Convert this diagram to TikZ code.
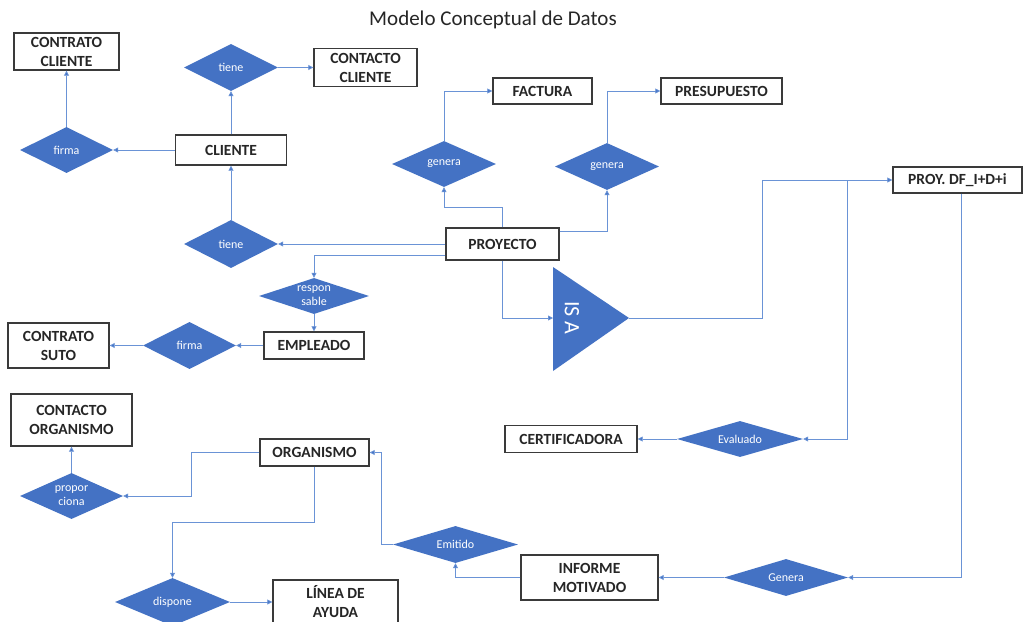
\documentclass[tikz,border=0pt]{standalone}
\usepackage{fontspec}
\setmainfont{Carlito}
\usetikzlibrary{shapes.geometric,arrows.meta}
\definecolor{dblue}{HTML}{4472C4}
\definecolor{lblue}{HTML}{6A93D6}
\definecolor{boxc}{HTML}{3A3A3A}
\tikzset{
  ent/.style={draw=boxc, line width=1.4pt, fill=white, align=center, inner sep=0pt,
    font=\bfseries\fontsize{15.5}{19}\selectfont, text=black!85},
  rel/.style={diamond, fill=dblue, draw=none, inner sep=0pt, align=center,
    text=white, font=\fontsize{12}{14}\selectfont},
  conn/.style={draw=lblue, line width=0.8pt, -{Triangle[length=5pt,width=5pt,fill=dblue]}},
}
\begin{document}
\begin{tikzpicture}[x=1pt,y=-1pt]
\useasboundingbox (0,0) rectangle (1025,621);
\fill[white] (0,0) rectangle (1025,621);
\node[font=\fontsize{21}{23}\selectfont, text=black!85] (title) at (493,20) {Modelo Conceptual de Datos};
% entities
\node[ent, minimum width=105, minimum height=37] (contratocliente) at (66.5,51.5) {CONTRATO\\CLIENTE};
\node[ent, minimum width=103, minimum height=38] (contactocliente) at (365.5,67.5) {CONTACTO\\CLIENTE};
\node[ent, minimum width=111, minimum height=30] (cliente) at (231,150) {CLIENTE};
\node[ent, minimum width=99, minimum height=26] (factura) at (542.5,91) {FACTURA};
\node[ent, minimum width=121, minimum height=26] (presupuesto) at (721.5,91) {PRESUPUESTO};
\node[ent, minimum width=113, minimum height=32] (proyecto) at (502.5,244) {PROYECTO};
\node[ent, minimum width=129, minimum height=26] (proy) at (957.5,180) {PROY. DF\_I+D+i};
\node[ent, minimum width=101, minimum height=45] (contratosuto) at (58.5,345.5) {CONTRATO\\SUTO};
\node[ent, minimum width=100, minimum height=27] (empleado) at (314,345.5) {EMPLEADO};
\node[ent, minimum width=121, minimum height=52] (contactoorg) at (71.5,420) {CONTACTO\\ORGANISMO};
\node[ent, minimum width=109, minimum height=27] (organismo) at (314.5,452.5) {ORGANISMO};
\node[ent, minimum width=132, minimum height=27] (certificadora) at (571,439) {CERTIFICADORA};
\node[ent, minimum width=137, minimum height=45] (informe) at (589.5,577.5) {INFORME\\MOTIVADO};
\node[ent, minimum width=125, minimum height=44] (linea) at (335.5,602) {LÍNEA DE\\AYUDA};
% relationships
\node[rel, aspect=2, minimum width=94, minimum height=47] (tiene1) at (231,67.5) {tiene};
\node[rel, aspect=2, minimum width=93, minimum height=46] (firma1) at (66.5,150) {firma};
\node[rel, aspect=2.2, minimum width=104, minimum height=46] (genera1) at (444,164) {genera};
\node[rel, aspect=2.2, minimum width=104, minimum height=47] (genera2) at (607,166.5) {genera};
\node[rel, aspect=2, minimum width=94, minimum height=48] (tiene2) at (231,244) {tiene};
\node[rel, aspect=3, minimum width=110, minimum height=36] (respons) at (314,296) {respon\\sable};
\node[rel, aspect=2, minimum width=93, minimum height=47] (firma2) at (189.5,345.5) {firma};
\node[rel, aspect=3.5, minimum width=126, minimum height=36] (evaluado) at (740,439) {Evaluado};
\node[rel, aspect=2.2, minimum width=103, minimum height=46] (propor) at (71.5,496) {propor\\ciona};
\node[rel, aspect=3.4, minimum width=125, minimum height=37] (emitido) at (455.5,544.5) {Emitido};
\node[rel, aspect=3.4, minimum width=124, minimum height=37] (genera3) at (786,577.5) {Genera};
\node[rel, aspect=2.4, minimum width=115, minimum height=48] (dispone) at (172.5,602) {dispone};
% IS A triangle
\coordinate (isaL) at (553,318);
\coordinate (isaR) at (629,318);
\fill[dblue] (553,267) -- (isaR) -- (553,371) -- cycle;
\node[text=white, rotate=-90, font=\fontsize{22}{24}\selectfont] (isa) at (572,318) {IS A};
% junctions
\coordinate (j1) at (762,318);
\coordinate (j2) at (847,180);
% connectors
\draw[conn] (cliente.north) -- (tiene1.south);
\draw[conn] (tiene1.east) -- (contactocliente.west);
\draw[conn] (cliente.west) -- (firma1.east);
\draw[conn] (firma1.north) -- (contratocliente.south);
\draw[conn] (tiene2.north) -- (cliente.south);
\draw[conn] (proyecto.west) -- (tiene2.east);
\draw[conn] ([yshift=-11pt]proyecto.west) -| (respons.north);
\draw[conn] (respons.south) -- (empleado.north);
\draw[conn] (empleado.west) -- (firma2.east);
\draw[conn] (firma2.west) -- (contratosuto.east);
\draw[conn] (proyecto.north) -- ++(0,-20) -| (genera1.south);
\draw[conn] ([yshift=13pt]proyecto.east) -| (genera2.south);
\draw[conn] (genera1.north) |- (factura.west);
\draw[conn] (genera2.north) |- (presupuesto.west);
\draw[conn] (proyecto.south) |- (isaL);
\draw[conn] (isaR) -- (j1) |- (proy.west);
\draw[conn] (j2) |- (evaluado.east);
\draw[conn] (evaluado.west) -- (certificadora.east);
\draw[conn] ([xshift=4pt]proy.south) |- (genera3.east);
\draw[conn] (genera3.west) -- (informe.east);
\draw[conn] (informe.west) -| (emitido.south);
\draw[conn] (emitido.west) -- ++(-11,0) |- (organismo.east);
\draw[conn] (organismo.west) -- ++(-68,0) |- (propor.east);
\draw[conn] (propor.north) -- (contactoorg.south);
\draw[conn] (organismo.south) -- ++(0,56) -| (dispone.north);
\draw[conn] (dispone.east) -- (linea.west);
\end{tikzpicture}
\end{document}
